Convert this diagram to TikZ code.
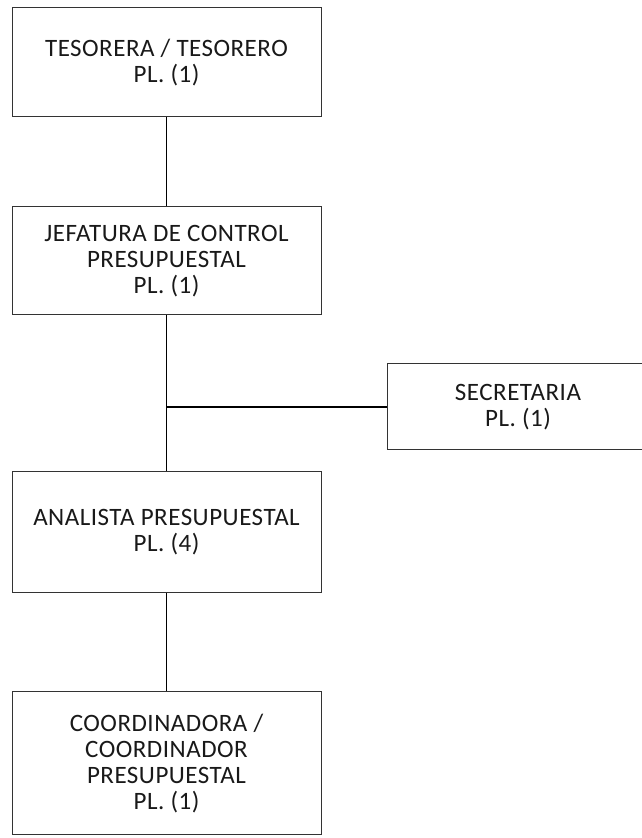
\documentclass[tikz,border=0pt]{standalone}
\usepackage{fontspec}
\setmainfont{Carlito}[LetterSpace=2]
\tikzset{
    puesto/.style ={
        rectangle,
        minimum width =309pt,
        inner sep=4pt,
        align=center,
        font=\fontsize{25}{26}\selectfont,
        text=black!90,
        draw=black!80,
        line width=1pt
    },
    enlace/.style ={
        draw=black,
        line width=1.6pt
    }
}
\begin{document}
\begin{tikzpicture}[x=1pt,y=1pt]
        \useasboundingbox (0,0) rectangle (641,838);
        \fill[white] (0,0) rectangle (641,838);
        \node[puesto,minimum height=109pt] (TESORERO) at(166.5,775.5) {TESORERA / TESORERO\\PL. (1)};
        \node[puesto,minimum height=108pt] (JEFATURA) at(166.5,577) {JEFATURA DE CONTROL\\PRESUPUESTAL\\PL. (1)};
        \node[puesto,minimum width=262pt,minimum height=86pt] (SECRETARIA) at(518,431) {SECRETARIA\\PL. (1)};
        \node[puesto,minimum height=121pt] (ANALISTA) at(166.5,305.5) {ANALISTA PRESUPUESTAL\\PL. (4)};
        \node[puesto,minimum height=143pt] (COORDINADOR) at(166.5,74.5) {COORDINADORA /\\COORDINADOR\\PRESUPUESTAL\\PL. (1)};
        \coordinate (UNION) at (JEFATURA.south |- SECRETARIA.west);
        \draw[enlace] (TESORERO)--(JEFATURA);
        \draw[enlace] (JEFATURA)--(ANALISTA);
        \draw[enlace] (UNION)--(SECRETARIA);
        \draw[enlace] (ANALISTA)--(COORDINADOR);
    \end{tikzpicture}
\end{document}
